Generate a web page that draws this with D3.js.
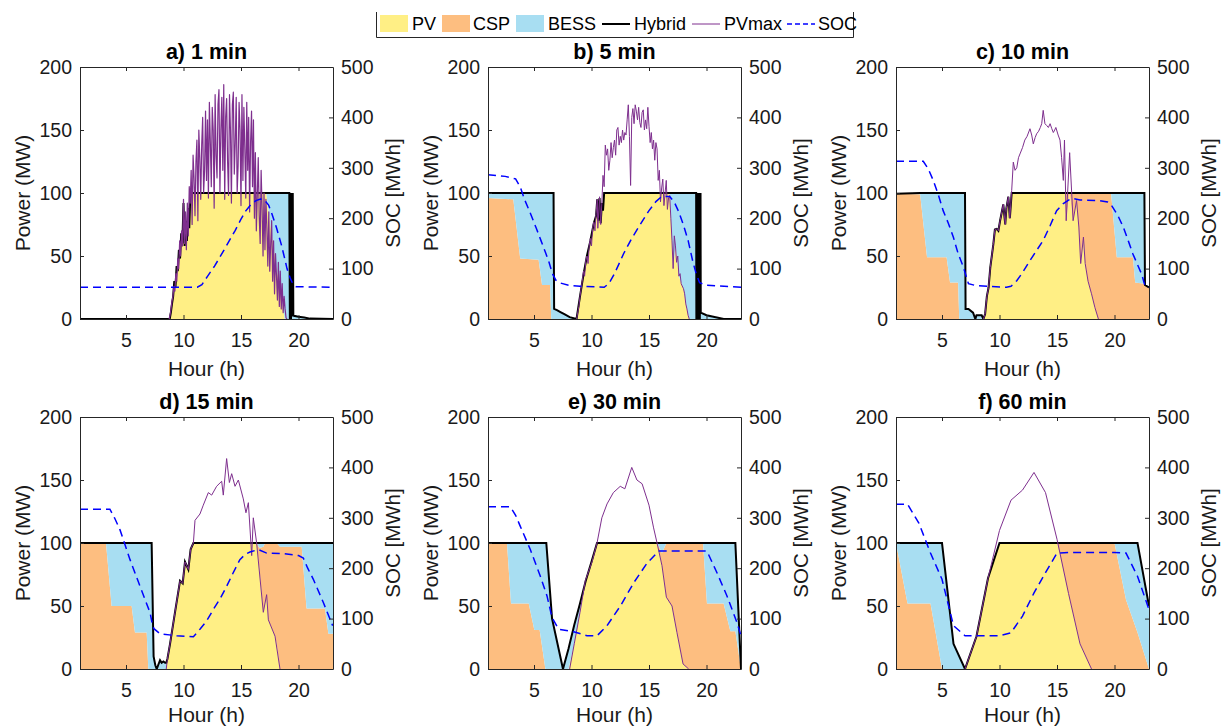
<!DOCTYPE html>
<html>
<head>
<meta charset="utf-8">
<script src="https://cdn.jsdelivr.net/npm/d3@7"></script>
<style>
  body { margin: 0; background: #fff; }
  svg { display: block; font-family: "Liberation Sans", Arial, Helvetica, sans-serif; }
</style>
</head>
<body>
<svg id="chart" width="1221" height="728"></svg>
<script>
// ---- shared axes ----
const titles = ["a) 1 min", "b) 5 min", "c) 10 min", "d) 15 min", "e) 30 min", "f) 60 min"];
const xTicks = [5, 10, 15, 20];
const powerTicks = [0, 50, 100, 150, 200];
const socTicks = [0, 100, 200, 300, 400, 500];
const legendNames = ["PV", "CSP", "BESS", "Hybrid", "PVmax", "SOC"];

// ---- a) 1 min ----
const hoursA = [1, 8.8, 8.9, 9.0, 9.1, 9.2, 9.3, 9.4, 9.5, 9.6, 9.7, 9.8, 9.9, 10.0, 10.1, 10.2, 10.3, 10.4, 10.5, 10.6,
  17.2, 17.4, 17.6, 17.8, 18.0, 18.2, 18.4, 18.6, 18.8,
  19.2, 19.25, 19.3, 19.35, 19.4, 19.45, 19.5, 19.55, 19.6, 20.0, 20.5, 21.0, 23];
const pvA = [0, 0, 5, 12, 18, 30, 25, 42, 38, 55, 48, 68, 60, 92, 58, 78, 62, 88, 72, 100,
  100, 85, 72, 60, 46, 35, 22, 12, 0,
  0, 0, 0, 0, 0, 0, 0, 0, 0, 0, 0, 0, 0];
const cspA = [0, 0, 0, 0, 0, 0, 0, 0, 0, 0, 0, 0, 0, 0, 0, 0, 0, 0, 0, 0,
  0, 0, 0, 0, 0, 0, 0, 0, 0,
  0, 0, 0, 0, 0, 0, 0, 0, 0, 0, 0, 0, 0];
const bessA = [0, 0, 0, 0, 0, 0, 0, 0, 0, 0, 0, 0, 0, 0, 0, 0, 0, 0, 0, 0,
  0, 15, 28, 40, 54, 65, 78, 88, 100,
  100, 0, 100, 0, 100, 2, 100, 3, 2.5, 1.8, 1.2, 0.3, 0];
// PVmax sampled every 5 minutes from 08:45
const pvmaxStartA = 8.75;
const pvmaxStepA = 1 / 12;
const pvmaxA = [0, 3, 8, 14, 18, 26, 22, 36, 30, 48,
  40, 62, 50, 70, 58, 95, 60, 85, 55, 92,
  66, 105, 92, 118, 75, 130, 112, 82, 125, 142,
  78, 150, 128, 95, 138, 160, 100, 118, 165, 110,
  158, 96, 172, 140, 105, 168, 150, 88, 178, 130,
  112, 170, 182, 100, 150, 176, 118, 186, 95, 160,
  175, 125, 98, 178, 150, 92, 170, 180, 115, 140,
  176, 100, 122, 172, 150, 90, 178, 110, 168, 135,
  96, 172, 118, 160, 85, 140, 165, 105, 158, 80,
  132, 70, 98, 128, 82, 60, 118, 88, 50, 100,
  55, 95, 72, 42, 85, 38, 60, 78, 30, 62,
  20, 52, 35, 15, 45, 10, 38, 8, 28, 5,
  18, 8, 1, 0];
const socHoursA = [1, 11.2, 11.6, 12.1, 12.7, 13.3, 13.9, 14.5, 15.0, 15.4, 15.9, 16.3, 16.7, 17.0, 17.4, 17.7, 18.1, 18.5, 18.8, 19.0, 19.3, 19.5, 19.8, 23];
const socA = [63, 63, 68, 85, 105, 128, 152, 176, 198, 214, 228, 235, 238, 237, 226, 208, 180, 148, 120, 100, 80, 70, 64, 63];

// ---- b) 5 min ----
const hoursB = [1, 3.2, 3.8, 5.4, 5.7, 6.4, 6.5, 6.7, 6.75, 7.0, 7.3, 7.6, 8.1, 8.7,
  9.0, 9.3, 9.6, 9.9, 10.2, 10.4, 10.5, 10.6, 10.7, 10.8, 10.9, 11.0, 11.1,
  16.8, 17.0, 17.1, 17.3, 17.6, 18.0, 18.3, 18.5,
  19.1, 19.12, 19.22, 19.24, 19.3, 19.36, 19.42, 19.48,
  19.5, 20.0, 20.5, 21.0, 21.5, 23];
const pvB = [0, 0, 0, 0, 0, 0, 0, 0, 0, 0, 0, 0, 0, 0,
  18, 35, 50, 62, 76, 82, 95, 78, 96, 76, 92, 86, 100,
  100, 62, 40, 58, 34, 24, 8, 0,
  0, 0, 0, 0, 0, 0, 0, 0,
  0, 0, 0, 0, 0, 0];
const cspB = [96, 95, 48, 47, 27, 27, 0, 0, 0, 0, 0, 0, 0, 0,
  0, 0, 0, 0, 0, 0, 0, 0, 0, 0, 0, 0, 0,
  0, 0, 0, 0, 0, 0, 0, 0,
  0, 0, 0, 0, 0, 0, 0, 0,
  0, 0, 0, 0, 0, 0];
const bessB = [4, 5, 52, 53, 73, 73, 100, 100, 8, 7, 5.5, 4, 1.5, 0,
  0, 0, 0, 0, 0, 0, 0, 0, 0, 0, 0, 0, 0,
  0, 38, 60, 42, 66, 76, 92, 100,
  100, 0, 0, 100, 0, 100, 0, 100,
  5, 3, 2, 1, 0, 0];
const pvmaxHoursB = [8.7, 8.9, 9.0, 9.1, 9.2, 9.3, 9.4, 9.5, 9.6, 9.7, 9.8, 9.9, 10.0, 10.1, 10.2, 10.3, 10.4, 10.5, 10.55,
  10.6, 10.7, 10.8, 10.9, 11.0, 11.1, 11.2, 11.3, 11.4, 11.5, 11.6, 11.7, 11.8, 11.9, 12.0, 12.1, 12.2, 12.3, 12.4, 12.5,
  12.6, 12.7, 12.8, 12.9, 13.0, 13.1, 13.2, 13.3, 13.4, 13.5, 13.6, 13.7, 13.8, 13.9, 14.0, 14.1, 14.2, 14.3, 14.4, 14.5,
  14.6, 14.7, 14.8, 14.9, 15.0, 15.1, 15.2, 15.3, 15.4, 15.5, 15.6, 15.7, 15.8, 15.9, 16.0, 16.1, 16.2, 16.3, 16.4, 16.5,
  16.6, 16.7, 16.8, 16.9, 17.0, 17.1, 17.2, 17.3, 17.4, 17.5, 17.6, 17.7, 17.8, 18.0, 18.1, 18.2, 18.3, 18.4, 18.5];
const pvmaxB = [0, 10, 18, 24, 30, 38, 34, 46, 50, 44,
  58, 64, 58, 72, 77, 70, 84, 95, 72, 80,
  97, 75, 92, 114, 105, 138, 130, 135, 118, 126,
  140, 128, 136, 142, 130, 150, 152, 138, 145, 140,
  150, 142, 148, 146, 158, 170, 145, 106, 160, 167,
  155, 170, 165, 158, 168, 156, 152, 164, 166, 150,
  158, 151, 168, 153, 140, 148, 135, 142, 126, 140,
  135, 110, 118, 93, 104, 111, 90, 100, 110, 87,
  96, 98, 80, 62, 40, 66, 58, 45, 50, 34,
  36, 28, 24, 20, 12, 8, 3, 0];
const socHoursB = [1, 2.5, 3.4, 3.8, 4.2, 4.7, 5.2, 5.6, 6.0, 6.3, 6.6, 6.9, 7.2, 8.0, 9.0, 11.1, 11.5, 12.0, 12.8, 13.5,
  14.2, 15.0, 15.6, 16.1, 16.8, 17.2, 17.6, 18.0, 18.4, 18.8, 19.1, 19.4, 20.0, 23];
const socB = [286, 283, 278, 262, 236, 209, 180, 156, 132, 113, 90, 77, 72, 67, 65, 63, 70, 90, 130, 160,
  186, 215, 233, 243, 243, 232, 212, 186, 156, 115, 90, 72, 67, 63];

// ---- c) 10 min ----
const hoursC = [1, 3.1, 3.7, 5.4, 5.7, 6.4, 6.5, 7.0, 7.05, 7.3, 7.7, 7.9, 8.0, 8.45, 8.6,
  8.75, 8.9, 9.05, 9.2, 9.46, 9.6, 9.75, 9.9, 10.05, 10.33, 10.5, 10.6, 10.77, 10.9, 11.06,
  15.7, 15.8, 16.1, 16.4, 16.7, 16.9, 17.06, 17.3, 17.45, 17.7, 18.0, 18.3, 18.6,
  19.7, 20.2, 21.6, 21.8, 22.6, 22.65, 23];
const pvC = [0, 0, 0, 0, 0, 0, 0, 0, 0, 0, 0, 0, 0, 0, 0,
  4, 18, 25, 41, 59, 71, 71.5, 70, 78, 91, 75, 88, 97, 80, 100,
  100, 78, 100, 78, 94, 73, 44, 65, 44, 30, 20, 9, 0,
  0, 0, 0, 0, 0, 0, 0];
const cspC = [99.5, 99, 49, 49, 29, 29, 0, 0, 0, 0, 0, 0, 0, 0, 0,
  0, 0, 0, 0, 0, 0, 0, 0, 0, 0, 0, 0, 0, 0, 0,
  0, 22, 0, 22, 6, 27, 56, 35, 56, 70, 80, 91, 100,
  100, 49, 49, 29, 28, 27, 25];
const bessC = [0, 1, 51, 51, 71, 71, 100, 100, 8, 8, 5, 0, 3, 3, 0,
  0, 0, 0, 0, 0, 0, 0, 0, 0, 0, 0, 0, 0, 0, 0,
  0, 0, 0, 0, 0, 0, 0, 0, 0, 0, 0, 0, 0,
  0, 51, 51, 71, 72, 0, 0];
const pvmaxHoursC = [8.6, 8.75, 8.9, 9.05, 9.2, 9.46, 9.6, 9.75, 9.9, 10.05,
  10.33, 10.5, 10.6, 10.77, 10.9, 11.06, 11.2, 11.35, 11.5, 11.65,
  11.78, 12.0, 12.2, 12.4, 12.65, 12.8, 12.94, 13.1, 13.23, 13.4,
  13.55, 13.67, 13.8, 13.95, 14.1, 14.25, 14.4, 14.55, 14.68, 14.8,
  14.9, 15.1, 15.26, 15.4, 15.55, 15.65, 15.8, 16.1, 16.4, 16.7,
  16.9, 17.06, 17.3, 17.45, 17.7, 18.0, 18.3, 18.6];
const pvmaxC = [0, 4, 18, 25, 41, 59, 71, 71.5, 70, 78,
  91, 75, 88, 97, 80, 102, 124.5, 118, 120, 128,
  131, 136, 142, 145, 151, 146, 139, 144, 147, 149,
  152, 155, 165.6, 155, 153.6, 152, 155, 151, 148, 150,
  152, 146, 142, 128, 110, 142, 78, 132, 78, 94,
  73, 44, 65, 44, 30, 20, 9, 0];
const socHoursC = [1, 3.37, 3.8, 4.24, 4.7, 5.1, 5.55, 5.99, 6.4, 6.86, 7.3, 8.0, 10.6, 11.0, 11.5, 12.0, 12.65, 13.2,
  13.8, 14.4, 14.97, 15.55, 16.0, 16.4, 17.0, 18.7, 19.4, 19.75, 20.3, 20.77, 21.2, 21.6, 22.0, 22.36, 22.65, 23];
const socC = [313, 313, 298, 275, 245, 215, 190, 162, 130, 103, 70, 66, 63, 65, 76, 92, 116, 135,
  156, 185, 215, 229, 236, 239, 236, 235, 232, 225, 205, 182, 155, 129, 108, 89, 66, 63];

// ---- d) 15 min ----
const hoursD = [1, 3.26, 3.75, 5.49, 5.78, 6.8, 6.94, 7.23, 7.4, 7.55, 7.67, 7.96, 8.1, 8.25, 8.4, 8.5,
  8.6, 8.83, 9.26, 9.7, 9.93, 10.13, 10.42, 10.62, 10.86,
  16.36, 16.6, 16.94, 17.1, 17.23, 17.38, 17.96, 18.1, 18.39,
  20.28, 20.7, 22.3, 22.6, 23];
const pvD = [0, 0, 0, 0, 0, 0, 0, 0, 0, 0, 0, 0, 0, 0, 0, 0,
  8, 20, 45, 70, 68, 85, 79, 95, 100,
  100, 80, 45, 52, 59, 39, 26, 20, 0,
  0, 0, 0, 0, 0];
const cspD = [100, 100, 50, 50, 29, 29, 0, 0, 0, 0, 0, 0, 0, 0, 0, 0,
  0, 0, 0, 0, 0, 0, 0, 0, 0,
  0, 16, 52, 48, 41, 61, 74, 80, 97,
  97, 48, 48, 28, 28];
const bessD = [0, 0, 50, 50, 71, 71, 100, 100, 10, 3, 0, 7, 5, 6, 5, 5,
  0, 0, 0, 0, 0, 0, 0, 0, 0,
  0, 4, 3, 0, 0, 0, 0, 0, 3,
  3, 52, 52, 72, 72];
const pvmaxHoursD = [8.5, 8.6, 8.83, 9.26, 9.7, 9.93, 10.13, 10.42, 10.62, 10.86,
  11.0, 11.43, 11.72, 12.16, 12.45, 12.88, 13.32, 13.46, 13.75, 13.99,
  14.19, 14.48, 14.77, 15.2, 15.43, 15.64, 15.93, 16.07, 16.36, 16.94,
  17.23, 17.38, 17.96, 18.39];
const pvmaxD = [0, 8, 20, 45, 70, 68, 85, 79, 95, 100,
  118, 123, 130, 140, 138, 145, 149, 138, 167, 148,
  155, 145, 150, 135, 124, 132, 90, 120, 100, 45,
  59, 39, 26, 0];
const socHoursD = [1, 3.6, 4.0, 4.48, 5.35, 6.22, 7.09, 7.3, 7.43, 7.96, 9.4, 10.86, 11.43, 12.0, 12.59,
  13.2, 13.75, 14.3, 14.9, 15.4, 15.78, 16.5, 17.23, 18.68, 20.0, 20.42, 20.8, 21.29, 22.16, 22.97];
const socD = [317, 317, 300, 276, 217, 164, 112, 88, 80, 70, 66, 64, 79, 95, 118,
  140, 164, 190, 217, 228, 232, 237, 230, 229, 225, 220, 200, 178, 132, 86];

// ---- e) 30 min ----
const hoursE = [1, 2.65, 3.0, 4.54, 5.03, 5.49, 5.99, 6.07, 6.57, 7.52,
  8.0, 8.5, 9.0, 9.5, 10.0, 10.48,
  15.7, 16.13, 16.51, 17.0, 17.43, 17.96, 18.45,
  19.7, 20.04, 21.49, 22.07, 22.51, 23];
const pvE = [0, 0, 0, 0, 0, 0, 0, 0, 0, 0,
  0, 20, 45, 70, 85, 100,
  100, 82, 57, 50, 29, 4, 0,
  0, 0, 0, 0, 0, 0];
const cspE = [100, 100, 52, 52, 31, 31, 0, 0, 0, 0,
  0, 0, 0, 0, 0, 0,
  0, 10, 43, 50, 71, 96, 100,
  100, 52, 52, 30, 30, 0];
const bessE = [0, 0, 48, 48, 69, 69, 100, 100, 40, 0,
  16, 15, 7, 0, 0, 0,
  0, 8, 0, 0, 0, 0, 0,
  0, 48, 48, 70, 70, 0];
const pvmaxHoursE = [8.1, 8.5, 9.0, 9.46, 10.04, 10.48, 10.9, 11.35, 11.9, 12.5, 12.9, 13.5,
  13.95, 14.4, 15.0, 15.4, 15.7, 16.13, 16.51, 17.0, 17.43, 17.96, 18.45];
const pvmaxE = [0, 20, 45, 70, 85, 100, 120, 131, 140, 145, 143, 160,
  150, 147, 130, 112, 100, 82, 57, 50, 29, 4, 0];
const socHoursE = [1, 2.94, 3.4, 3.81, 4.68, 5.55, 6.13, 6.57, 7.14, 8.45, 9.61, 10.48, 11.35, 12.51,
  13.67, 14.83, 15.84, 16.57, 20.04, 20.91, 21.78, 22.65, 23];
const socE = [322, 322, 305, 283, 237, 184, 145, 102, 79, 74, 66, 66, 86, 125,
  171, 210, 234, 234, 234, 191, 145, 92, 66];

// ---- f) 60 min ----
const hoursF = [1, 2, 3, 4, 5, 6, 7, 8, 9, 10, 11, 12, 13, 14, 15, 16, 17, 18, 19, 20, 21, 22, 23];
const pvF = [0, 0, 0, 0, 0, 0, 0, 26, 72, 100, 100, 100, 100, 100, 100, 60, 20, 0, 0, 0, 0, 0, 0];
const cspF = [100, 52, 52, 52, 0, 0, 0, 0, 0, 0, 0, 0, 0, 0, 0, 40, 80, 100, 100, 100, 55, 29, 0];
const bessF = [0, 48, 48, 48, 100, 20, 0, 0, 0, 0, 0, 0, 0, 0, 0, 0, 0, 0, 0, 0, 45, 71, 50];
const pvmaxHoursF = [7, 8, 9, 10, 11, 12, 13, 14, 15, 16, 17, 18];
const pvmaxF = [0, 26, 72, 110, 134, 142, 156, 140, 103, 60, 20, 0];
const socF = [327, 327, 289, 230, 178, 86, 66, 66, 66, 66, 72, 105, 151, 191, 230, 231, 231, 231, 231, 231, 230, 184, 118];

// ---- styling ----
const colors = { PV: "#FFEF85", CSP: "#FDBE80", BESS: "#A8DEF2" };
const hybridColor = "#000000";
const pvmaxColor = "#7E2F8E";
const socColor = "#0000FF";
const axisColor = "#262626";

const panels = [
  { title: titles[0], hours: hoursA, pv: pvA, csp: cspA, bess: bessA,
    pvmaxHours: pvmaxA.map((_, i) => pvmaxStartA + i * pvmaxStepA), pvmax: pvmaxA, socHours: socHoursA, soc: socA, pvmaxWidth: 1.2 },
  { title: titles[1], hours: hoursB, pv: pvB, csp: cspB, bess: bessB,
    pvmaxHours: pvmaxHoursB, pvmax: pvmaxB, socHours: socHoursB, soc: socB, pvmaxWidth: 1 },
  { title: titles[2], hours: hoursC, pv: pvC, csp: cspC, bess: bessC,
    pvmaxHours: pvmaxHoursC, pvmax: pvmaxC, socHours: socHoursC, soc: socC, pvmaxWidth: 1 },
  { title: titles[3], hours: hoursD, pv: pvD, csp: cspD, bess: bessD,
    pvmaxHours: pvmaxHoursD, pvmax: pvmaxD, socHours: socHoursD, soc: socD, pvmaxWidth: 1 },
  { title: titles[4], hours: hoursE, pv: pvE, csp: cspE, bess: bessE,
    pvmaxHours: pvmaxHoursE, pvmax: pvmaxE, socHours: socHoursE, soc: socE, pvmaxWidth: 1 },
  { title: titles[5], hours: hoursF, pv: pvF, csp: cspF, bess: bessF,
    pvmaxHours: pvmaxHoursF, pvmax: pvmaxF, socHours: hoursF, soc: socF, pvmaxWidth: 1 }
];

// ---- layout ----
const svg = d3.select("#chart");
const colLeft = [80, 488, 896];
const rowTop = [67, 417];
const xLabelOffset = [50, 46.5];
const W = 253, H = 252;

const x = d3.scaleLinear().domain([1, 23]).range([0, W]);
const y = d3.scaleLinear().domain([0, 200]).range([H, 0]);
const ySoc = d3.scaleLinear().domain([0, 500]).range([H, 0]);

const area = d3.area()
  .x(d => x(d.data.h))
  .y0(d => y(d[0]))
  .y1(d => y(d[1]));
const hybridLine = d3.line().x(d => x(d.h)).y(d => y(d.PV + d.CSP + d.BESS));
const pvmaxLine = d3.line().x(d => x(d[0])).y(d => y(d[1]));
const socLine = d3.line().x(d => x(d[0])).y(d => ySoc(d[1]));

function styleAxis(sel, size) {
  sel.attr("font-family", null).attr("font-size", size).attr("color", axisColor);
  sel.selectAll("text").attr("fill", "#1a1a1a");
  sel.selectAll("line").attr("stroke-width", 1);
}

panels.forEach((p, i) => {
  const row = Math.floor(i / 3);
  const left = colLeft[i % 3], top = rowTop[row];
  const g = svg.append("g").attr("transform", `translate(${left},${top})`);

  g.append("clipPath").attr("id", "plot-clip-" + i)
    .append("rect").attr("width", W).attr("height", H);
  const plot = g.append("g").attr("clip-path", `url(#plot-clip-${i})`);

  const rows = p.hours.map((h, k) => ({ h, PV: p.pv[k], CSP: p.csp[k], BESS: p.bess[k] }));
  const series = d3.stack().keys(["PV", "CSP", "BESS"])(rows);

  plot.selectAll("path.stack").data(series).join("path")
    .attr("class", "stack")
    .attr("fill", d => colors[d.key])
    .attr("d", area);

  plot.append("path").datum(rows)
    .attr("fill", "none").attr("stroke", hybridColor).attr("stroke-width", 2)
    .attr("d", hybridLine);

  plot.append("path").datum(p.pvmaxHours.map((h, k) => [h, p.pvmax[k]]))
    .attr("fill", "none").attr("stroke", pvmaxColor).attr("stroke-width", p.pvmaxWidth)
    .attr("stroke-linejoin", "round")
    .attr("d", pvmaxLine);

  plot.append("path").datum(p.socHours.map((h, k) => [h, p.soc[k]]))
    .attr("fill", "none").attr("stroke", socColor).attr("stroke-width", 1.5)
    .attr("stroke-dasharray", "8,5")
    .attr("d", socLine);

  // axes with inward ticks
  g.append("g")
    .call(d3.axisLeft(y).tickValues(powerTicks).tickSizeInner(-4).tickSizeOuter(0).tickPadding(8))
    .call(s => styleAxis(s, 19.5));
  g.append("g").attr("transform", `translate(${W},0)`)
    .call(d3.axisRight(ySoc).tickValues(socTicks).tickSizeInner(-4).tickSizeOuter(0).tickPadding(8))
    .call(s => styleAxis(s, 19.5));
  g.append("g").attr("transform", `translate(0,${H})`)
    .call(d3.axisBottom(x).tickValues(xTicks).tickSizeInner(-4).tickSizeOuter(0).tickPadding(14))
    .call(s => styleAxis(s, 19.5));
  g.append("g")
    .call(d3.axisTop(x).tickValues(xTicks).tickSizeInner(-4).tickSizeOuter(0).tickFormat(""))
    .call(s => styleAxis(s, 19.5));

  // title and axis labels
  g.append("text").attr("x", W / 2).attr("y", -8)
    .attr("text-anchor", "middle").attr("font-weight", "bold").attr("font-size", 21.5)
    .attr("fill", "#000").text(p.title);
  g.append("text").attr("x", W / 2).attr("y", H + xLabelOffset[row]).attr("dy", "0.32em")
    .attr("text-anchor", "middle").attr("font-size", 21).attr("fill", "#1a1a1a").text("Hour (h)");
  g.append("text").attr("transform", `translate(-57,${H / 2}) rotate(-90)`).attr("dy", "0.35em")
    .attr("text-anchor", "middle").attr("font-size", 21).attr("fill", "#1a1a1a").text("Power (MW)");
  g.append("text").attr("transform", `translate(${W + 60},${H / 2}) rotate(-90)`).attr("dy", "0.35em")
    .attr("text-anchor", "middle").attr("font-size", 20.5).attr("fill", "#1a1a1a").text("SOC [MWh]");
});

// ---- legend ----
const legend = svg.append("g");
legend.append("rect").attr("x", 376.5).attr("y", 12).attr("width", 477).attr("height", 25.5)
  .attr("fill", "#fff");
legend.append("path")
  .attr("d", "M376.5,12 V37.5 H853.5 V12")
  .attr("fill", "none").attr("stroke", "#262626").attr("stroke-width", 1);

const legendItems = [
  { name: legendNames[0], kind: "swatch", fill: colors.PV, x0: 380, tx: 412 },
  { name: legendNames[1], kind: "swatch", fill: colors.CSP, x0: 442, tx: 473 },
  { name: legendNames[2], kind: "swatch", fill: colors.BESS, x0: 516, tx: 548 },
  { name: legendNames[3], kind: "line", stroke: hybridColor, w: 2, dash: null, x0: 602, tx: 634 },
  { name: legendNames[4], kind: "line", stroke: pvmaxColor, w: 1, dash: null, x0: 692, tx: 724 },
  { name: legendNames[5], kind: "line", stroke: socColor, w: 1.5, dash: "5,3", x0: 787, tx: 818 }
];
legendItems.forEach(it => {
  if (it.kind === "swatch") {
    legend.append("rect").attr("x", it.x0).attr("y", 15).attr("width", 28).attr("height", 17).attr("fill", it.fill);
  } else {
    legend.append("line").attr("x1", it.x0).attr("x2", it.x0 + 28).attr("y1", 24).attr("y2", 24)
      .attr("stroke", it.stroke).attr("stroke-width", it.w).attr("stroke-dasharray", it.dash);
  }
  legend.append("text").attr("x", it.tx).attr("y", 24).attr("dy", "0.35em")
    .attr("font-size", 18).attr("fill", "#000").text(it.name);
});
</script>
</body>
</html>
